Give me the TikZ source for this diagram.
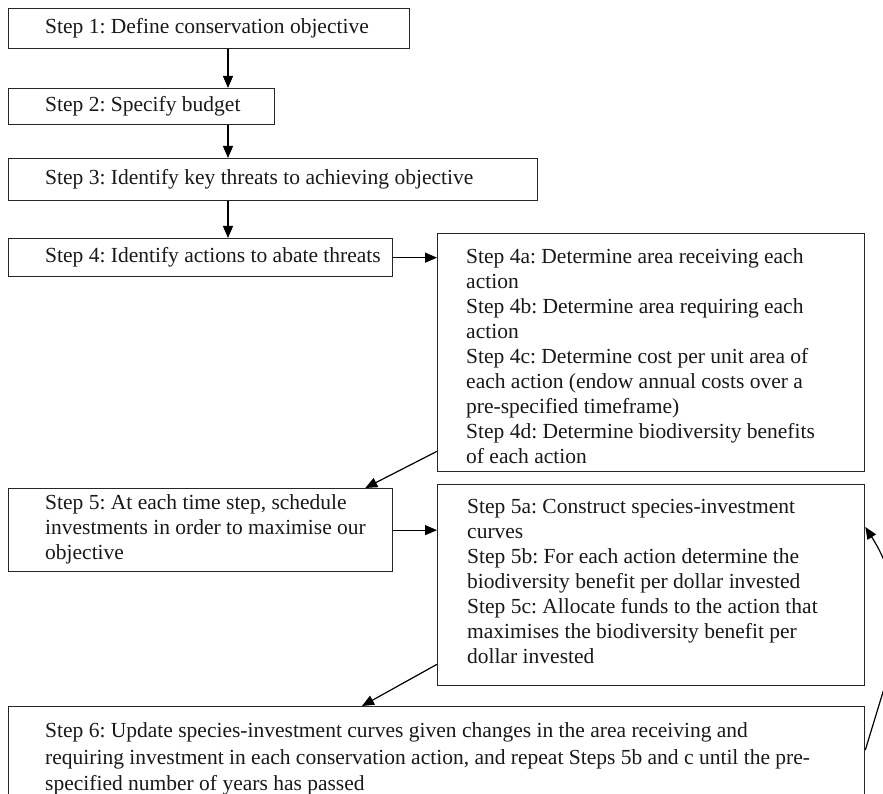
\documentclass[tikz,border=0pt]{standalone}
\usepackage{fontspec}
\setmainfont{Liberation Serif}
\usetikzlibrary{arrows.meta,calc}
\frenchspacing
\begin{document}
\begin{tikzpicture}[x=1pt,y=-1pt,
  box/.style={draw=black!85, line width=1.3pt, inner sep=0pt, anchor=north west},
  txt/.style={anchor=west, align=left, inner sep=0pt, text=black!90, font=\fontsize{21.5}{25}\selectfont\frenchspacing},
  arr/.style={draw=black, line width=1.2pt, -{Triangle[length=12pt,width=10pt]}}]
\useasboundingbox (0,0) rectangle (883,794);
\fill[white] (0,0) rectangle (883,794);
\clip (0,0) rectangle (883,794);
% boxes
\node[box, minimum width=401pt, minimum height=40pt] (b1) at (8,8) {};
\node[box, minimum width=266pt, minimum height=36pt] (b2) at (8,88) {};
\node[box, minimum width=529pt, minimum height=42pt] (b3) at (8,158) {};
\node[box, minimum width=384pt, minimum height=38pt] (b4) at (8,238) {};
\node[box, minimum width=427pt, minimum height=238pt] (b4a) at (437,233) {};
\node[box, minimum width=384pt, minimum height=83pt] (b5) at (8,488) {};
\node[box, minimum width=427pt, minimum height=201pt] (b5a) at (437,484) {};
\node[box, minimum width=856pt, minimum height=110pt] (b6) at (8,706) {};
% texts
\node[txt] (t1) at ($(b1.west)+(37,0)$) {Step 1: Define conservation objective};
\node[txt] (t2) at ($(b2.west)+(37,0)$) {Step 2: Specify budget};
\node[txt] (t3) at ($(b3.west)+(37,0)$) {Step 3: Identify key threats to achieving objective};
\node[txt] (t4) at ($(b4.west)+(37,0)$) {Step 4: Identify actions to abate threats};
\node[txt] (t4a) at ($(b4a.west)+(29,3)$) {Step 4a: Determine area receiving each\\action\\Step 4b: Determine area requiring each\\action\\Step 4c: Determine cost per unit area of\\each action (endow annual costs over a\\pre-specified timeframe)\\Step 4d: Determine biodiversity benefits\\of each action};
\node[txt] (t5) at ($(b5.west)+(37,-1)$) {Step 5: At each time step, schedule\\investments in order to maximise our\\objective};
\node[txt] (t5a) at ($(b5a.west)+(30,-4)$) {Step 5a: Construct species-investment\\curves\\Step 5b: For each action determine the\\biodiversity benefit per dollar invested\\Step 5c: Allocate funds to the action that\\maximises the biodiversity benefit per\\dollar invested};
\node[txt, font=\fontsize{21.5}{26.5}\selectfont\frenchspacing] (t6) at ($(b6.north west)+(37,53)$) {Step 6: Update species-investment curves given changes in the area receiving and\\requiring investment in each conservation action, and repeat Steps 5b and c until the pre-\\specified number of years has passed};
% connectors
\coordinate (ax) at (228,0);
\draw[arr] (b1.south -| ax) -- (b2.north -| ax);
\draw[arr] (b2.south -| ax) -- (b3.north -| ax);
\draw[arr] (b3.south -| ax) -- (b4.north -| ax);
\draw[arr] (b4.east) -- (b4.east -| b4a.west);
\draw[arr] ($(b4a.south west)+(0,-21)$) -- ($(b5.north east)+(-28,0)$);
\draw[arr] (b5.east) -- (b5.east -| b5a.west);
\draw[arr] ($(b5a.south west)+(0,-22)$) -- ($(b6.north west)+(354,0)$);
\draw[arr] ($(b6.north east)+(0,44)$) -- ($(b6.north east)+(25,-38)$)
  .. controls ($(b5a.north east)+(36,146)$) and ($(b5a.north east)+(34,96)$) .. ($(b5a.north east)+(0,43)$);
\end{tikzpicture}
\end{document}
